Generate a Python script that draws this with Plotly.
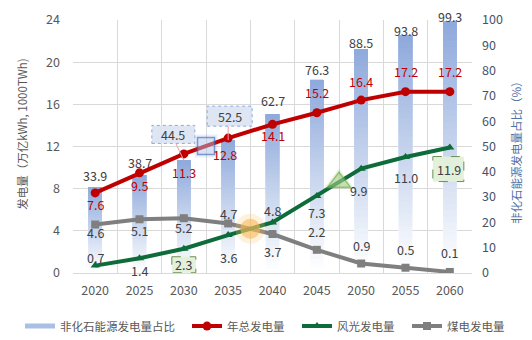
import numpy as np
import plotly.graph_objects as go

# ---- data ----
years = ["2020", "2025", "2030", "2035", "2040", "2045", "2050", "2055", "2060"]
nonfossil_share = [33.9, 38.7, 44.5, 52.5, 62.7, 76.3, 88.5, 93.8, 99.3]   # %
total_gen = [7.6, 9.5, 11.3, 12.8, 14.1, 15.2, 16.4, 17.2, 17.2]          # 万亿kWh
wind_solar_gen = [0.7, 1.4, 2.3, 3.6, 4.8, 7.3, 9.9, 11.0, 11.9]
coal_gen = [4.6, 5.1, 5.2, 4.7, 3.7, 2.2, 0.9, 0.5, 0.1]
gen_ticks = [0, 4, 8, 12, 16, 20, 24]
share_ticks = [0, 10, 20, 30, 40, 50, 60, 70, 80, 90, 100]

# ---- styling ----
FONT = "Noto Sans CJK SC"
GRID = "#d9d9d9"
TXT = "#404040"
TICK = "#595959"
RED = "#c00000"
GREEN = "#0e6b3a"
GRAY = "#7f7f7f"
BAR_TOP = np.array([143, 170, 220])
BAR_BOTTOM = np.array([255, 255, 255])

# label offsets in pixels (text centre relative to the point, + is up)
red_off = [-12, -13, -19, -16, -11, 20, 19, 20, 20]
green_off = [8, -12, None, -22, 12, -16, -22, -20, None]
coal_off = [-8, -11, -9, 10, -17, 18, 18, 18, 19]
share_off = [12, 13, None, None, 14, 10, 7, 5, 5]

# left edge (page pixels) of each legend entry
legend_left = [20, 187, 297, 407]

x = list(range(len(years)))
share = np.array(nonfossil_share)

fig = go.Figure()

# gradient bars: overlapping layers, each running from a higher base to the bar top,
# fading from white at the bottom to blue at the top
N = 40
for k in range(N):
    t = k / (N - 1)
    c = BAR_BOTTOM + (BAR_TOP - BAR_BOTTOM) * t
    fig.add_trace(go.Bar(
        x=x, y=share * (1 - k / N), base=share * k / N, width=0.3,
        marker=dict(color=f"rgb({c[0]:.0f},{c[1]:.0f},{c[2]:.0f})", line=dict(width=0)),
        yaxis="y", showlegend=False, hoverinfo="skip"))

# legend entry for the bars
fig.add_trace(go.Scatter(x=[None], y=[None], mode="lines", name="非化石能源发电量占比",
                         line=dict(color="#a9bfe3", width=5), yaxis="y2", legend="legend"))

fig.add_trace(go.Scatter(x=x, y=coal_gen, mode="lines+markers", name="煤电发电量",
                         line=dict(color=GRAY, width=4),
                         marker=dict(symbol="square", size=8, color=GRAY),
                         yaxis="y2", legend="legend4", hoverinfo="skip"))
fig.add_trace(go.Scatter(x=x, y=wind_solar_gen, mode="lines+markers", name="风光发电量",
                         line=dict(color=GREEN, width=4),
                         marker=dict(symbol="triangle-up", size=8, color=GREEN),
                         yaxis="y2", legend="legend3", hoverinfo="skip"))
fig.add_trace(go.Scatter(x=x, y=total_gen, mode="lines+markers", name="年总发电量",
                         line=dict(color=RED, width=4),
                         marker=dict(symbol="circle", size=9, color=RED),
                         yaxis="y2", legend="legend2", hoverinfo="skip"))

# highlight markers
hx = 2.5
hy = (total_gen[2] + total_gen[3]) / 2
fig.add_trace(go.Scatter(x=[hx, hx], y=[hy, hy], mode="markers", yaxis="y2",
                         showlegend=False, hoverinfo="skip",
                         marker=dict(symbol="square", size=[23, 17],
                                     color=["rgba(68,114,196,0.15)", "rgba(189,207,237,0.6)"],
                                     line=dict(color=["rgba(0,0,0,0)", "#4472c4"], width=1.5))))

# crossing point of wind/solar and coal
i = 3
d0 = coal_gen[i] - wind_solar_gen[i]
d1 = coal_gen[i + 1] - wind_solar_gen[i + 1]
tc = d0 / (d0 - d1)
cx = i + tc
cy = wind_solar_gen[i] + tc * (wind_solar_gen[i + 1] - wind_solar_gen[i])
fig.add_trace(go.Scatter(x=[cx, cx], y=[cy, cy], mode="markers", yaxis="y2",
                         showlegend=False, hoverinfo="skip",
                         marker=dict(symbol="circle", size=[30, 20],
                                     color=["rgba(255,200,110,0.35)", "rgba(247,185,85,0.85)"],
                                     line=dict(width=0))))

gx = 5.5
gy = (wind_solar_gen[5] + wind_solar_gen[6]) / 2
fig.add_trace(go.Scatter(x=[gx, gx], y=[gy, gy], mode="markers", yaxis="y2",
                         showlegend=False, hoverinfo="skip",
                         marker=dict(symbol="triangle-up", size=[27, 20],
                                     color=["rgba(112,173,71,0.22)", "rgba(169,209,142,0.8)"],
                                     line=dict(color=["rgba(0,0,0,0)", "#70ad47"], width=1.5))))

annotations = []
shapes = []


def label(xi, yv, text, yref, color, dy, dx=0, size=12.5):
    annotations.append(dict(x=xi, y=yv, xref="x", yref=yref, text=text, showarrow=False,
                            xanchor="center", yanchor="middle", xshift=dx, yshift=dy,
                            font=dict(family=FONT, size=size, color=color)))


def pixel_box(xi, yv, yref, x0, x1, y0, y1, fill, line_color, dash):
    shapes.append(dict(type="rect", xref="x", yref=yref, xsizemode="pixel", ysizemode="pixel",
                       xanchor=xi, yanchor=yv, x0=x0, x1=x1, y0=y0, y1=y1,
                       fillcolor=fill, line=dict(color=line_color, width=1, dash=dash),
                       layer="above"))


def pixel_line(xi, yv, yref, x0, x1, y0, y1, color):
    shapes.append(dict(type="line", xref="x", yref=yref, xsizemode="pixel", ysizemode="pixel",
                       xanchor=xi, yanchor=yv, x0=x0, x1=x1, y0=y0, y1=y1,
                       line=dict(color=color, width=1), layer="above"))


# share labels above bars
for xi, v, off in zip(x, nonfossil_share, share_off):
    if off is not None:
        label(xi, v, f"{v:.1f}", "y", TXT, off)

# boxed share labels with leader lines
pixel_line(2, nonfossil_share[2], "y", -8, 0, 17, 0, "#e8a0a8")
pixel_box(2, nonfossil_share[2], "y", -32, 11, 17, 35, "rgba(218,227,243,0.9)", "#8faadc", "dot")
label(2, nonfossil_share[2], f"{nonfossil_share[2]:.1f}", "y", TXT, 26, dx=-11)
pixel_line(3, nonfossil_share[3], "y", 0, 0, 14, 0, "#e8a0a8")
pixel_box(3, nonfossil_share[3], "y", -21, 24, 14, 34, "rgba(218,227,243,0.9)", "#8faadc", "dot")
label(3, nonfossil_share[3], f"{nonfossil_share[3]:.1f}", "y", TXT, 24, dx=2)

# total generation labels
for xi, v, off in zip(x, total_gen, red_off):
    label(xi, v, f"{v:.1f}", "y2", RED, off, dx=-3 if xi == 3 else 0)

# wind/solar labels
for xi, v, off in zip(x, wind_solar_gen, green_off):
    if off is not None:
        label(xi, v, f"{v:.1f}", "y2", TXT, off, dx=-3 if xi == 6 else 0)
pixel_box(2, wind_solar_gen[2], "y2", -12, 12, -8, -24, "rgba(226,240,217,0.95)", "#6b8f55", "dash")
label(2, wind_solar_gen[2], f"{wind_solar_gen[2]:.1f}", "y2", TXT, -16)
pixel_box(8, wind_solar_gen[8], "y2", -17, 14, -9, -34, "rgba(226,240,217,0.95)", "#6b8f55", "dash")
label(8, wind_solar_gen[8], f"{wind_solar_gen[8]:.1f}", "y2", TXT, -22, dx=-1)

# coal labels
for xi, v, off in zip(x, coal_gen, coal_off):
    label(xi, v, f"{v:.1f}", "y2", TXT, off)

# axis titles
annotations.append(dict(xref="paper", yref="paper", x=0, y=0.55, xshift=-51, text="发电量（万亿kWh, 1000TWh)",
                        textangle=-90, showarrow=False, xanchor="center", yanchor="middle",
                        font=dict(family=FONT, size=11.5, color=TICK)))
annotations.append(dict(xref="paper", yref="paper", x=1, y=0.486, xshift=44, text="非化石能源发电量占比（%）",
                        textangle=-90, showarrow=False, xanchor="center", yanchor="middle",
                        font=dict(family=FONT, size=11.5, color="#4f71a6")))


def legend_box(left_px):
    return dict(orientation="h", xref="container", yref="container",
                x=left_px / 532, xanchor="left", y=0.041, yanchor="middle",
                font=dict(family=FONT, size=11.5, color=TICK), itemwidth=30,
                bgcolor="rgba(0,0,0,0)")


fig.update_layout(
    width=532, height=340,
    margin=dict(l=73, r=60, t=20, b=67, autoexpand=False),
    paper_bgcolor="white", plot_bgcolor="white",
    barmode="overlay",
    font=dict(family=FONT, size=12, color=TICK),
    xaxis=dict(range=[-0.5, 8.5], tickmode="array", tickvals=x, ticktext=years,
               showgrid=False, zeroline=False, ticks="", ticklabelstandoff=8,
               tickfont=dict(family=FONT, size=12.5, color=TICK),
               minor=dict(tickmode="linear", tick0=-0.5, dtick=1, showgrid=True,
                          gridcolor=GRID, gridwidth=1, ticks="")),
    yaxis=dict(side="right", range=[0, 100], tickmode="array", tickvals=share_ticks,
               showgrid=False, zeroline=False, ticks="", ticklabelstandoff=9,
               tickfont=dict(family=FONT, size=12.5, color="#44546a")),
    yaxis2=dict(side="left", overlaying="y", range=[0, 24], tickmode="array", tickvals=gen_ticks,
                showgrid=True, gridcolor=GRID, gridwidth=1, zeroline=True, zerolinecolor=GRID,
                zerolinewidth=1, ticks="", ticklabelstandoff=12,
                tickfont=dict(family=FONT, size=12.5, color=TICK)),
    legend=legend_box(legend_left[0]),
    legend2=legend_box(legend_left[1]),
    legend3=legend_box(legend_left[2]),
    legend4=legend_box(legend_left[3]),
    annotations=annotations,
    shapes=shapes,
    hovermode=False,
)

fig.write_html("out.html")
